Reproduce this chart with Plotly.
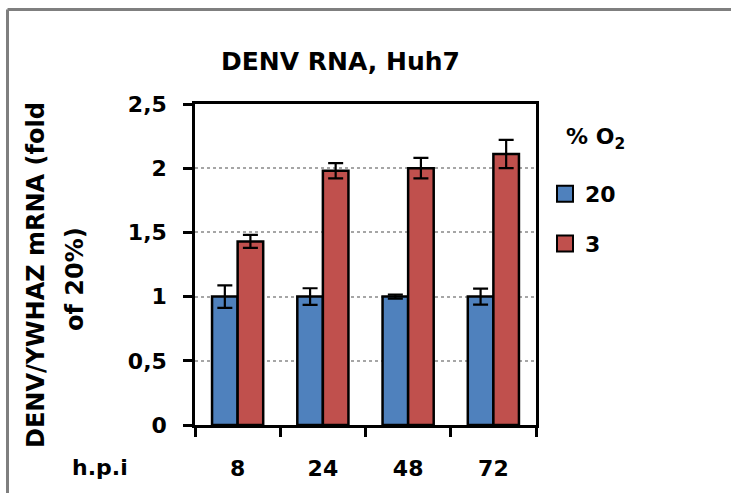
import plotly.graph_objects as go

# Hours post infection (x categories)
hpi = ["8", "24", "48", "72"]

# DENV/YWHAZ mRNA, fold of 20% O2
o2_20 = [1.0, 1.0, 1.0, 1.0]
o2_20_err = [0.088, 0.065, 0.015, 0.062]
o2_3 = [1.43, 1.98, 2.0, 2.11]
o2_3_err = [0.05, 0.06, 0.08, 0.11]

series_names = ["20", "3"]
colors = ["#4F81BD", "#C0504D"]
y_ticks = [0, 0.5, 1, 1.5, 2, 2.5]

FONT = "DejaVu Sans"
FS_TICK = 22
FS_TITLE = 25
FS_YTITLE = 24
FS_LEG = 22

# plot-area geometry in pixels
W, H = 731, 493
L, R, T, B = 195, 536, 104, 425


def px_x(px):
    return (px - L) / (R - L)


def px_y(py):
    return (B - py) / (B - T)


fig = go.Figure()
for name, vals, errs, col in [(series_names[0], o2_20, o2_20_err, colors[0]),
                              (series_names[1], o2_3, o2_3_err, colors[1])]:
    fig.add_trace(go.Bar(
        x=hpi, y=vals, name=name, showlegend=False,
        marker=dict(color=col, line=dict(color="black", width=2.5)),
        error_y=dict(type="data", array=errs, visible=True,
                     color="black", thickness=2.2, width=7.5),
    ))

# legend entries with bordered square swatches
for name, col in zip(series_names, colors):
    fig.add_trace(go.Scatter(
        x=[None], y=[None], mode="markers", name=name,
        legendgroup=name,
        marker=dict(symbol="square", size=16, color=col,
                    line=dict(color="black", width=2)),
    ))

fig.update_layout(
    width=W, height=H,
    margin=dict(l=L, r=W - R, t=T, b=H - B, pad=0),
    paper_bgcolor="white", plot_bgcolor="white",
    separators=",.",
    barmode="group", bargap=0.4, bargroupgap=0,
    font=dict(family=FONT, size=FS_TICK, color="black", weight="bold"),
    showlegend=True,
    legend=dict(x=px_x(545), y=px_y(173), xanchor="left", yanchor="top",
                traceorder="grouped", tracegroupgap=18,
                font=dict(size=FS_LEG, weight="bold"),
                bgcolor="rgba(0,0,0,0)", itemwidth=30),
)

fig.update_yaxes(
    range=[0, 2.5], tickvals=y_ticks, tickformat="~g",
    showline=True, linecolor="black", linewidth=2.5, mirror=True,
    ticks="outside", ticklen=9, tickwidth=2.5, tickcolor="black",
    ticklabelstandoff=12,
    showgrid=True, gridcolor="#A6A6A6", gridwidth=2, griddash="dot",
    zeroline=False,
)
fig.update_xaxes(
    type="category",
    showline=True, linecolor="black", linewidth=2.5, mirror=True,
    ticks="outside", tickson="boundaries", ticklen=9, tickwidth=2.5,
    tickcolor="black", ticklabelstandoff=22,
    showgrid=False,
)

annotations = [
    dict(text="DENV RNA, Huh7", x=px_x(340), y=px_y(62), size=FS_TITLE),
    dict(text="% O<sub>2</sub>", x=px_x(595), y=px_y(138), size=FS_LEG),
    dict(text="h.p.i", x=px_x(100), y=px_y(468), size=FS_TICK),
    dict(text="DENV/YWHAZ mRNA (fold", x=px_x(36), y=px_y(275),
         textangle=-90, size=FS_YTITLE),
    dict(text="of 20%)", x=px_x(75), y=px_y(279), textangle=-90,
         size=FS_YTITLE),
]
for a in annotations:
    size = a.pop("size")
    fig.add_annotation(xref="paper", yref="paper", showarrow=False,
                       xanchor="center", yanchor="middle",
                       font=dict(family=FONT, size=size, weight="bold",
                                 color="black"), **a)

# outer grey frame (top and left edges visible)
frame = dict(type="line", xref="paper", yref="paper",
             line=dict(color="#7F7F7F", width=3))
fig.add_shape(x0=px_x(7.5), x1=px_x(W + 10), y0=px_y(9.5), y1=px_y(9.5), **frame)
fig.add_shape(x0=px_x(7.5), x1=px_x(7.5), y0=px_y(9.5), y1=px_y(H + 10), **frame)

fig.write_html("out.html")
